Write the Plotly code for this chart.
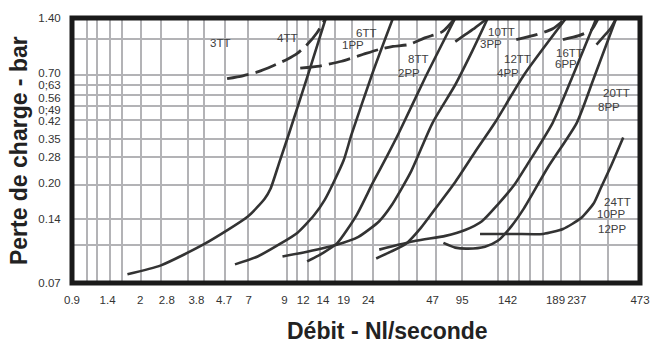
import numpy as np
import plotly.graph_objects as go

# ---------------- data ----------------
X_TICK_VALS = [0.9, 1.4, 2, 2.8, 3.8, 4.7, 7, 9, 12, 14, 19, 24, 47, 95, 142, 189, 237, 473]
X_TICK_TEXT = ["0.9", "1.4", "2", "2.8", "3.8", "4.7", "7", "9", "12", "14", "19", "24",
               "47", "95", "142", "189", "237", "473"]
Y_TICK_VALS = [0.07, 0.14, 0.20, 0.28, 0.35, 0.42, 0.49, 0.56, 0.63, 0.70, 1.40]
Y_TICK_TEXT = ["0.07", "0.14", "0.20", "0.28", "0.35", "0.42", "0;49", "0.56", "0;63", "0.70", "1.40"]

S1_X = [1.74, 2.60, 4.04, 6.89, 7.83, 8.16, 8.69, 9.71, 12.67, 14.62]
S1_Y = [0.077, 0.0848, 0.107, 0.144, 0.173, 0.192, 0.264, 0.372, 0.761, 1.40]
S2_X = [5.60, 7.45, 8.75, 10.96, 13.06, 14.41, 16.43, 19.0, 20.47, 25.27, 31.08]
S2_Y = [0.0857, 0.0934, 0.1073, 0.1206, 0.1458, 0.1716, 0.2072, 0.270, 0.365, 0.734, 1.40]
S3_X = [8.88, 12.38, 17.16, 21.85, 26.9, 30.4, 37.4, 47.0, 80.6, 103.7, 119.2]
S3_Y = [0.0934, 0.0984, 0.1061, 0.1156, 0.137, 0.160, 0.2336, 0.409, 0.63, 0.932, 1.40]
S4_X = [12.38, 13.89, 17.16, 21.45, 25.27, 29.5, 33.1, 43.7, 80.6]
S4_Y = [0.0885, 0.0964, 0.1073, 0.1458, 0.2072, 0.291, 0.372, 0.686, 1.40]
S5_X = [26.9, 39.4, 63.8, 97.5, 113.1, 130.1, 147.8, 159.2, 185.8, 229, 294]
S5_Y = [0.1006, 0.1107, 0.1168, 0.1245, 0.137, 0.163, 0.20, 0.254, 0.409, 0.708, 1.40]
S6_X = [60.8, 80.6, 100.1, 116.2, 130.1, 145.3, 156.5, 180.6, 237, 284.8, 365]
S6_Y = [0.1083, 0.1028, 0.1017, 0.1039, 0.1107, 0.1299, 0.1566, 0.248, 0.409, 0.672, 1.40]
S7_X = [111.2, 147.8, 175.5, 204.6, 247.5, 284.8, 307, 345.8, 393.7]
S7_Y = [0.1193, 0.1193, 0.1193, 0.1259, 0.1414, 0.1648, 0.192, 0.254, 0.354]
S8_X = [26.06, 30.4, 35.6, 41.5, 50.4, 80.6, 106.4, 126.8, 156.5, 211.7]
S8_Y = [0.0914, 0.0984, 0.1073, 0.1272, 0.1566, 0.2072, 0.2985, 0.409, 0.70, 1.40]
A1_X = [80.6, 97.5, 106.4, 119.2]
A1_Y = [1.050, 1.143, 1.242, 1.40]
A2_X = [294, 317.3, 342.1, 365]
A2_Y = [1.013, 1.116, 1.228, 1.40]

D1_X = [4.93, 6.36, 7.45, 8.28, 9.42, 10.96, 12.38, 13.37, 14.62]
D1_Y = [0.672, 0.693, 0.726, 0.780, 0.848, 0.910, 1.013, 1.170, 1.40]
D2_X = [11.47, 13.68, 18.45, 22.9, 26.9, 31.08, 36.7, 43.7, 59.4, 80.6]
D2_Y = [0.761, 0.780, 0.827, 0.900, 0.955, 0.990, 1.013, 1.102, 1.185, 1.40]
D3_X = [149.5, 168.6, 185.8, 211.7]
D3_Y = [1.077, 1.143, 1.228, 1.40]
D4_X = [204.6, 242.2, 278.7, 300.5]
D4_Y = [1.077, 1.129, 1.213, 1.40]

CURVE_LABELS = ["3TT", "4TT", "6TT", "1PP", "8TT", "2PP", "10TT", "3PP", "12TT", "4PP",
                "16TT", "6PP", "20TT", "8PP", "24TT", "10PP", "12PP"]

# ---------------- layout (positions / styles) ----------------
# axis scale anchors: where each tick value sits along its axis (percent of axis length)
X_TICK_POS = [0, 6.26, 12.0, 16.70, 21.91, 26.78, 31.13, 37.39, 40.70, 44.17, 47.83,
              52.17, 63.48, 68.70, 76.70, 85.13, 88.87, 100]
Y_SCALE_POS = [0, 24.07, 37.04, 47.41, 54.44, 61.48, 66.67, 71.11, 74.81, 78.52, 100]
# where the y tick texts are printed (slightly spread, as in the original)
Y_LABEL_POS = [0, 24.07, 37.78, 47.41, 54.44, 61.11, 65.19, 70.0, 74.81, 79.26, 100]
X_GRID_POS = [2.61, 4.35, 6.61, 8.87, 12.17, 15.65, 20.35, 23.30, 26.96, 30.96, 37.91,
              39.65, 41.57, 43.65, 46.26, 49.22, 53.04, 57.57, 60.70, 64.00, 68.70,
              74.96, 76.70, 78.61, 80.70, 82.96, 86.09, 89.39, 94.43]
Y_GRID_POS = [14.44, 24.07, 37.04, 47.41, 54.44, 61.48, 66.67, 71.11, 74.81, 78.52, 92.2]
LABEL_POS = [(0.2609, 0.9074), (0.3791, 0.9259), (0.5183, 0.9444), (0.4939, 0.8963),
             (0.6087, 0.8444), (0.5930, 0.7926), (0.7565, 0.9481), (0.7374, 0.9000),
             (0.7843, 0.8444), (0.7670, 0.7926), (0.8765, 0.8667), (0.8696, 0.8259),
             (0.9583, 0.7185), (0.9461, 0.6630), (0.9600, 0.3074), (0.9496, 0.2593),
             (0.9513, 0.2037)]

GRID = "#b3b3b6"
INK = "#333333"
FONT = "Liberation Sans, Arial, sans-serif"


def xs(v):
    return np.interp(np.log(v), np.log(X_TICK_VALS), X_TICK_POS)


def ys(v):
    return np.interp(np.log(v), np.log(Y_TICK_VALS), Y_SCALE_POS)


fig = go.Figure()
solid = [(S1_X, S1_Y), (S2_X, S2_Y), (S3_X, S3_Y), (S4_X, S4_Y), (S5_X, S5_Y),
         (S6_X, S6_Y), (S7_X, S7_Y), (S8_X, S8_Y), (A1_X, A1_Y), (A2_X, A2_Y)]
dashed = [(D1_X, D1_Y), (D2_X, D2_Y), (D3_X, D3_Y), (D4_X, D4_Y)]
for cx, cy in solid:
    fig.add_trace(go.Scatter(x=xs(cx), y=ys(cy), mode="lines", showlegend=False,
                             hoverinfo="skip",
                             line=dict(color=INK, width=2.6, shape="spline", smoothing=0.6)))
for cx, cy in dashed:
    fig.add_trace(go.Scatter(x=xs(cx), y=ys(cy), mode="lines", showlegend=False,
                             hoverinfo="skip",
                             line=dict(color=INK, width=2.8, shape="spline", smoothing=0.6,
                                       dash="22px,7px")))

for txt, (px, py) in zip(CURVE_LABELS, LABEL_POS):
    fig.add_annotation(x=px, y=py, xref="paper", yref="paper", text=txt, showarrow=False,
                       font=dict(family=FONT, size=11.5, color="#404040"),
                       xanchor="center", yanchor="middle")

fig.add_annotation(x=0.555, y=-0.18, xref="paper", yref="paper", text="Débit - Nl/seconde",
                   showarrow=False, xanchor="center", yanchor="middle",
                   font=dict(family=FONT, size=23, color="#222222", weight="bold"))
fig.add_annotation(x=-0.094, y=0.5, xref="paper", yref="paper", text="Perte de charge - bar",
                   showarrow=False, xanchor="center", yanchor="middle", textangle=-90,
                   font=dict(family=FONT, size=23, color="#222222", weight="bold"))

fig.add_shape(type="rect", xref="paper", yref="paper", x0=0, x1=1, y0=0, y1=1,
              line=dict(color="#1a1a1a", width=5), layer="above")

fig.update_layout(
    width=662, height=344,
    margin=dict(l=72, r=15, t=13, b=61),
    paper_bgcolor="white", plot_bgcolor="white",
    font=dict(family=FONT, size=12, color="#333333"),
    xaxis=dict(range=[0, 100], tickmode="array", tickvals=X_TICK_POS, ticktext=X_TICK_TEXT,
               tickangle=0, showgrid=False, zeroline=False, showline=False,
               ticks="outside", ticklen=6, tickcolor="rgba(0,0,0,0)",
               tickfont=dict(family=FONT, size=11.5, color="#333333"),
               minor=dict(tickmode="array", tickvals=X_GRID_POS, showgrid=True,
                          gridcolor=GRID, gridwidth=1.6, ticks="")),
    yaxis=dict(range=[0, 100], tickmode="array", tickvals=Y_LABEL_POS, ticktext=Y_TICK_TEXT,
               showgrid=False, zeroline=False, showline=False,
               ticks="outside", ticklen=8, tickcolor="rgba(0,0,0,0)",
               tickfont=dict(family=FONT, size=11.5, color="#333333"),
               minor=dict(tickmode="array", tickvals=Y_GRID_POS, showgrid=True,
                          gridcolor=GRID, gridwidth=1.6, ticks="")),
)

fig.write_html("out.html")
